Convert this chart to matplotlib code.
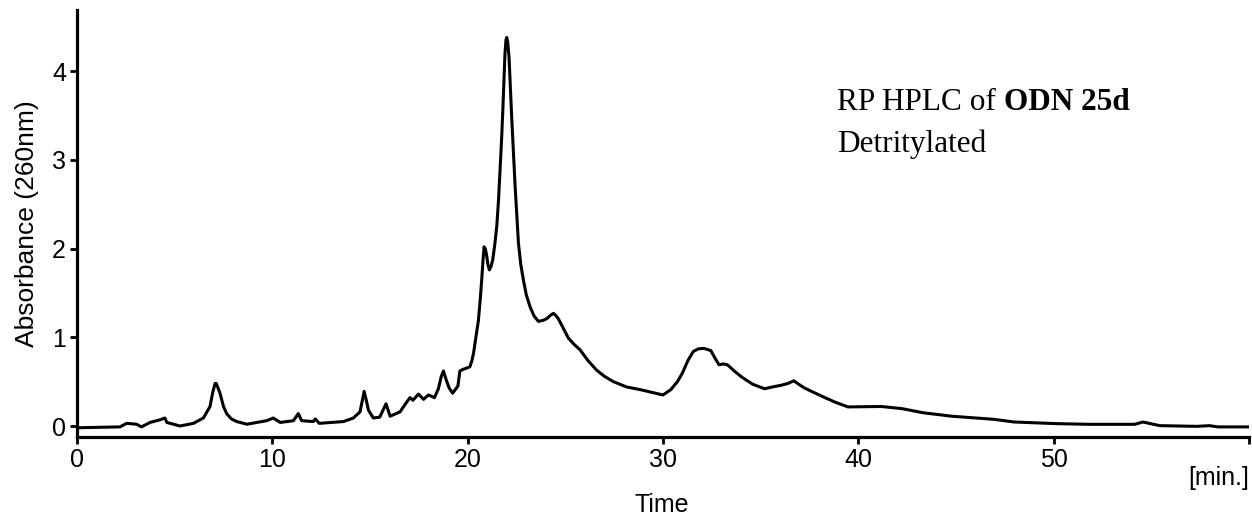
import matplotlib
matplotlib.use("Agg")
import matplotlib.pyplot as plt

# Retention time (min) and absorbance
time_min = [0, 2.2, 2.54, 3.05, 3.3, 3.74, 4.25, 4.5, 4.6, 5.27, 5.96, 6.47, 6.81, 6.95,
            7.07, 7.13, 7.2, 7.32, 7.5, 7.66, 7.9, 8.18, 8.7, 9.71, 10.05, 10.4, 11.08, 11.33,
            11.5, 12.1, 12.2, 12.4, 13.64, 14.15, 14.49, 14.6, 14.7, 14.8, 14.92, 15.17,
            15.5, 15.82, 16.03, 16.54, 16.88, 17.05, 17.2, 17.48, 17.74, 17.99, 18.3, 18.5,
            18.65, 18.76, 18.9, 19.05, 19.23, 19.5, 19.6, 19.78, 20.04, 20.12, 20.22, 20.3,
            20.42, 20.55, 20.64, 20.72, 20.78, 20.84, 20.9, 20.96, 21.03, 21.11, 21.2, 21.28,
            21.38, 21.49, 21.58, 21.66, 21.73, 21.8, 21.86, 21.91, 21.96, 22.0, 22.05, 22.12,
            22.19, 22.26, 22.35, 22.43, 22.52, 22.6, 22.72, 22.85, 23.0, 23.2, 23.4, 23.62,
            23.85, 24.05, 24.25, 24.39, 24.5, 24.64, 24.9, 25.16, 25.45, 25.75, 26.15, 26.6,
            27.0, 27.46, 28.14, 28.83, 30.0, 30.4, 30.74, 31.0, 31.28, 31.55, 31.81, 32.1,
            32.45, 32.65, 32.87, 33.1, 33.3, 33.65, 34.04, 34.6, 35.2, 35.6, 36.06, 36.4,
            36.7, 36.95, 37.23, 37.7, 38.19, 38.8, 39.47, 41.17, 42.23, 43.3, 44.79, 46.9,
            47.98, 50.1, 51.8, 54.15, 54.57, 55.43, 57.34, 57.98, 58.4, 60]
absorbance = [-0.02, -0.01, 0.03, 0.02, -0.01, 0.04, 0.07, 0.09, 0.04, 0.0, 0.03, 0.09, 0.22,
              0.38, 0.48, 0.48, 0.44, 0.37, 0.22, 0.14, 0.08, 0.05, 0.02, 0.06, 0.09, 0.04,
              0.06, 0.14, 0.06, 0.05, 0.08, 0.03, 0.05, 0.09, 0.16, 0.28, 0.39, 0.30, 0.18,
              0.09, 0.10, 0.25, 0.11, 0.16, 0.27, 0.32, 0.29, 0.36, 0.30, 0.35, 0.32, 0.42,
              0.56, 0.62, 0.52, 0.43, 0.37, 0.45, 0.62, 0.64, 0.66, 0.67, 0.74, 0.82, 1.0,
              1.19, 1.42, 1.65, 1.85, 2.02, 2.0, 1.94, 1.83, 1.76, 1.8, 1.87, 2.03, 2.25,
              2.55, 2.89, 3.2, 3.56, 3.9, 4.2, 4.35, 4.38, 4.33, 4.15, 3.8, 3.45, 3.05, 2.70,
              2.35, 2.06, 1.82, 1.65, 1.48, 1.34, 1.24, 1.18, 1.19, 1.21, 1.25, 1.27, 1.25,
              1.21, 1.1, 0.99, 0.92, 0.86, 0.74, 0.63, 0.56, 0.50, 0.44, 0.41, 0.35, 0.41,
              0.50, 0.60, 0.74, 0.84, 0.87, 0.875, 0.85, 0.77, 0.69, 0.70, 0.69, 0.62, 0.55,
              0.47, 0.42, 0.44, 0.46, 0.48, 0.51, 0.47, 0.43, 0.38, 0.33, 0.27, 0.215, 0.22,
              0.196, 0.15, 0.11, 0.076, 0.045, 0.027, 0.019, 0.019, 0.045, 0.004, -0.004,
              0.004, -0.01, -0.01]
assert len(time_min) == len(absorbance)

x_ticks = [0, 10, 20, 30, 40, 50, 60]
x_tick_labels = ["0", "10", "20", "30", "40", "50", ""]
y_ticks = [0, 1, 2, 3, 4]
y_tick_labels = ["0", "1", "2", "3", "4"]

W, H = 1252, 524
fig = plt.figure(figsize=(W / 100, H / 100), dpi=100)
ax = fig.add_axes([77 / W, 1 - 437 / H, (1249 - 77) / W, (437 - 10) / H])

ax.plot(time_min, absorbance, color="black", lw=2.2, solid_joinstyle="round",
        solid_capstyle="round")

ax.set_xlim(0, 60)
ax.set_ylim(-0.124, 4.69)
for s in ["top", "right"]:
    ax.spines[s].set_visible(False)
for s in ["left", "bottom"]:
    ax.spines[s].set_linewidth(2.3)

sans = "Liberation Sans"
ax.set_xticks(x_ticks)
ax.set_xticklabels(x_tick_labels, fontfamily=sans, fontsize=18)
ax.set_yticks(y_ticks)
ax.set_yticklabels(y_tick_labels, fontfamily=sans, fontsize=18)
ax.tick_params(axis="both", direction="out", length=5, width=2, pad=3)

ax.set_ylabel("Absorbance (260nm)", fontfamily=sans, fontsize=19, labelpad=9)
fig.text(662 / W, 1 - 505 / H, "Time", ha="center", va="center",
         fontfamily=sans, fontsize=18)
fig.text(1249 / W, 1 - 478 / H, "[min.]", ha="right", va="center",
         fontfamily=sans, fontsize=18)

serif = "Liberation Serif"
t1 = fig.text(837 / W, 1 - 110 / H, "RP HPLC of ", ha="left", va="baseline",
              fontfamily=serif, fontsize=22.5)
ax.annotate("ODN 25d", xy=(1, 0), xycoords=t1, ha="left", va="bottom",
            fontfamily=serif, fontsize=22.5, fontweight="bold")
fig.text(837 / W, 1 - 152 / H, "Detritylated", ha="left", va="baseline",
         fontfamily=serif, fontsize=22.5)

fig.savefig("out.png", dpi=100)
